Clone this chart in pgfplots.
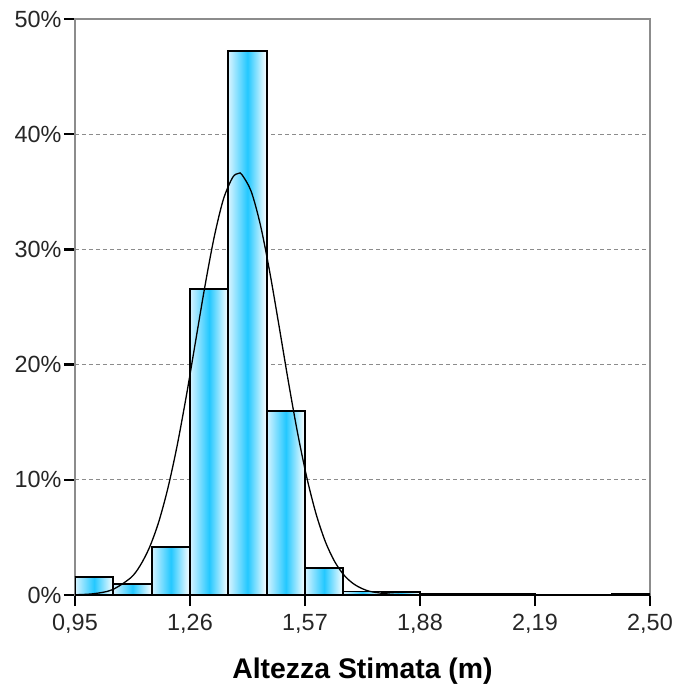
\documentclass[border=0pt]{standalone}
\usepackage{pgfplots}
\pgfplotsset{compat=1.18}
\usepackage{fontspec}
\setmainfont{Liberation Sans}
\definecolor{barcyan}{RGB}{35,200,255}
\definecolor{barlight}{RGB}{215,243,255}
\definecolor{gridgray}{RGB}{140,140,140}
\pgfplotsset{hbar/.style={ybar interval, draw=black, line width=1.8bp, left color=barlight, right color=white, middle color=barcyan}}
\begin{document}
\begin{tikzpicture}
\begin{axis}[
  scale only axis, width=575bp, height=576bp,
  at={(0,0)}, anchor=south west,
  xmin=0.95, xmax=2.5, ymin=0, ymax=50,
  xtick={0.95,1.26,1.57,1.88,2.19,2.5},
  xticklabels={{0,95},{1,26},{1,57},{1,88},{2,19},{2,50}},
  ytick={0,10,20,30,40,50},
  yticklabels={0\%,10\%,20\%,30\%,40\%,50\%},
  xtick pos=left, ytick pos=left,
  tick align=outside, major tick length=11bp,
  tick style={line width=2.5bp, black},
  ymajorgrids,
  grid style={gridgray, dash pattern=on 4bp off 3bp, line width=1bp},
  axis line style={gridgray, line width=1.3bp},
  ticklabel style={font=\fontsize{23.5}{27}\selectfont, text=black!85},
  xticklabel style={yshift=-5bp},
  yticklabel style={xshift=1bp},
  xlabel={Altezza Stimata (m)},
  xlabel style={font=\fontsize{28.5}{32}\selectfont\bfseries, at={(axis description cs:0.5,0)}, anchor=center, yshift=-76bp},
]
\addplot[hbar] coordinates {(0.95,1.55) (1.05333,0)};
\addplot[hbar] coordinates {(1.05333,0.95) (1.15667,0)};
\addplot[hbar] coordinates {(1.15667,4.14) (1.26,0)};
\addplot[hbar] coordinates {(1.26,26.55) (1.36333,0)};
\addplot[hbar] coordinates {(1.36333,47.25) (1.46667,0)};
\addplot[hbar] coordinates {(1.46667,15.97) (1.57,0)};
\addplot[hbar] coordinates {(1.57,2.37) (1.67333,0)};
\addplot[hbar] coordinates {(1.67333,0.30) (1.77667,0)};
\addplot[hbar] coordinates {(1.77667,0.25) (1.88,0)};
\addplot[hbar] coordinates {(1.88,0.10) (1.98333,0)};
\addplot[hbar] coordinates {(1.98333,0.10) (2.08667,0)};
\addplot[hbar] coordinates {(2.08667,0.10) (2.19,0)};
\addplot[hbar] coordinates {(2.39667,0.10) (2.5,0)};
\addplot[black, line width=1.3bp, smooth] coordinates {
(0.95,0.02) (1.00,0.11) (1.05,0.45) (1.10,1.49) (1.125,2.52) (1.15,4.07)
(1.175,6.27) (1.20,9.22) (1.225,12.91) (1.25,17.26) (1.275,22.01)
(1.30,26.76) (1.325,31.04) (1.35,34.35) (1.375,36.25) (1.391,36.6)
(1.40,36.49) (1.425,35.03) (1.45,32.09) (1.475,28.03) (1.50,23.36)
(1.525,18.56) (1.55,14.07) (1.575,10.18) (1.60,7.02) (1.625,4.62)
(1.65,2.90) (1.675,1.73) (1.70,0.99) (1.725,0.54) (1.75,0.28)
(1.80,0.07) (1.85,0.01) (1.90,0) (2.5,0)
};
\draw[black, line width=1.5bp] (rel axis cs:0,0) -- (rel axis cs:1,0);
\end{axis}
\pgfresetboundingbox
\path[use as bounding box] (-75bp,-96bp) rectangle (602bp,595bp);
\end{tikzpicture}
\end{document}
